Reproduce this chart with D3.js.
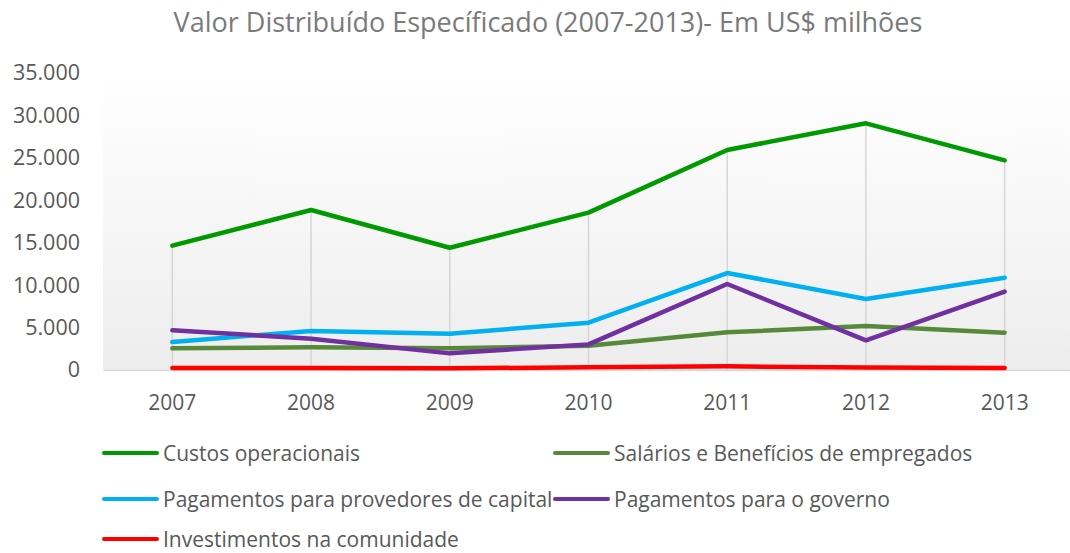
<!DOCTYPE html>
<html><head><meta charset="utf-8">
<script src="https://cdn.jsdelivr.net/npm/d3@7"></script>
<style>body{margin:0;background:#fff}svg{display:block}</style>
</head><body>
<svg id="chart" width="1070" height="553"></svg>
<script>
const years = ["2007","2008","2009","2010","2011","2012","2013"];
const custos = [14650,18860,14410,18540,25930,29070,24710];
const salarios = [2550,2670,2550,2870,4440,5190,4400];
const provedores = [3300,4600,4280,5580,11430,8370,10880];
const governo = [4680,3690,1960,3020,10135,3500,9230];
const investimentos = [235,235,200,320,430,300,250];
const yTicks = [0,5000,10000,15000,20000,25000,30000,35000];
const seriesNames = ["Custos operacionais","Salários e Benefícios de empregados","Pagamentos para provedores de capital","Pagamentos para o governo","Investimentos na comunidade"];
const seriesColors = ["#009A00","#568A3A","#00B0F0","#7030A0","#FF0000"];
const seriesValues = [custos,salarios,provedores,governo,investimentos];

const svg = d3.select("#chart");
const font = "'Open Sans', Lato, sans-serif";
const pLeft = 103, pRight = 1074, pTop = 73, pBottom = 370;

const x = d3.scaleBand().domain(years).range([pLeft,pRight]);
const y = d3.scaleLinear().domain([0,35000]).range([pBottom,pTop]);
const cx = d => x(d)+x.bandwidth()/2;

const defs = svg.append("defs");
const grad = defs.append("linearGradient").attr("id","bg").attr("x1",0).attr("y1",0).attr("x2",0).attr("y2",1);
grad.append("stop").attr("offset","0%").attr("stop-color","#ffffff");
grad.append("stop").attr("offset","100%").attr("stop-color","#ededed");
svg.append("rect").attr("x",pLeft).attr("y",pTop).attr("width",pRight-pLeft).attr("height",pBottom-pTop).attr("fill","url(#bg)");

// title
svg.append("text").attr("x",548).attr("y",32).attr("text-anchor","middle")
  .style("font-family",font).style("font-size","27px").attr("fill","#7a7a7a")
  .text("Valor Distribuído Específicado (2007-2013)- Em US$ milhões");

// y axis
const fmt = v => v===0 ? "0" : d3.format(",")(v).replace(/,/g,".");
const yAxis = svg.append("g").attr("transform",`translate(${pLeft-23},0)`)
  .call(d3.axisLeft(y).tickValues(yTicks).tickFormat(fmt).tickSize(0).tickPadding(0));
yAxis.select(".domain").remove();
yAxis.selectAll("text").style("font-family",font).style("font-size","21.5px").attr("fill","#595959");

// x axis
const xAxis = svg.append("g").attr("transform",`translate(0,${pBottom})`)
  .call(d3.axisBottom(x).tickSize(0).tickPadding(25));
xAxis.select(".domain").attr("stroke","#d9d9d9").attr("stroke-width",1.5);
xAxis.selectAll("text").style("font-family",font).style("font-size","21px").attr("fill","#595959");

// drop lines
svg.append("g").selectAll("line").data(years).join("line")
  .attr("x1",d=>cx(d)).attr("x2",d=>cx(d))
  .attr("y1",(d,i)=>y(d3.max(seriesValues,s=>s[i]))).attr("y2",pBottom)
  .attr("stroke","#d6d6d6").attr("stroke-width",1.5);

const line = d3.line().x((d,i)=>cx(years[i])).y(d=>y(d));
svg.append("g").selectAll("path").data([1,2,3,4,0]).join("path")
  .attr("d",i=>line(seriesValues[i])).attr("fill","none")
  .attr("stroke",i=>seriesColors[i]).attr("stroke-width",4.5)
  .attr("stroke-linejoin","round").attr("stroke-linecap","round");

// legend
const legPos = [[104,453],[555,453],[104,499],[555,499],[104,539]];
const leg = svg.append("g").selectAll("g").data(seriesNames).join("g")
  .attr("transform",(d,i)=>`translate(${legPos[i][0]},${legPos[i][1]})`);
leg.append("line").attr("x1",0).attr("x2",53).attr("y1",0).attr("y2",0)
  .attr("stroke",(d,i)=>seriesColors[i]).attr("stroke-width",4).attr("stroke-linecap","round");
leg.append("text").attr("x",59).attr("y",7.5).text(d=>d)
  .style("font-family",font).style("font-size","21px").attr("fill","#595959");
</script>
</body></html>
